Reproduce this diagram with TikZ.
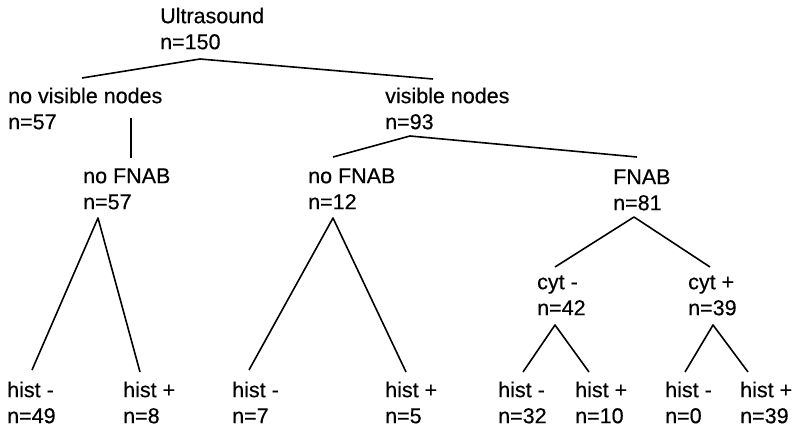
\documentclass[tikz,border=0pt]{standalone}
\usepackage{fontspec}
\setmainfont{Liberation Sans}[FakeBold=0.4]
\newcommand{\lab}[2]{\strut #1\\#2\strut}
\begin{document}
\begin{tikzpicture}[x=1pt,y=1pt,
  lbl/.style={anchor=north west, inner sep=0pt, align=left,
    font=\fontsize{21.5}{26}\selectfont},
  branch/.style={draw=black, line width=1.6pt, line join=round}]
\useasboundingbox[fill=white] (0,0) rectangle (792,429);
% labels
\node[lbl] (root) at (160,424.2) {\lab{Ultrasound}{n=150}};
\node[lbl] (nvn)  at (8,344.2)   {\lab{no visible nodes}{n=57}};
\node[lbl] (vn)   at (385,344.2) {\lab{visible nodes}{n=93}};
\node[lbl] (nf1)  at (83,264.2)  {\lab{no FNAB}{n=57}};
\node[lbl] (nf2)  at (308,264.2) {\lab{no FNAB}{n=12}};
\node[lbl] (fnab) at (613,263.2) {\lab{FNAB}{n=81}};
\node[lbl] (cytm) at (537,158.2) {\lab{cyt -}{n=42}};
\node[lbl] (cytp) at (688,158.2) {\lab{cyt +}{n=39}};
\node[lbl] (h1) at (7,50.2)   {\lab{hist -}{n=49}};
\node[lbl] (h2) at (123,50.2) {\lab{hist +}{n=8}};
\node[lbl] (h3) at (232,50.2) {\lab{hist -}{n=7}};
\node[lbl] (h4) at (385,50.2) {\lab{hist +}{n=5}};
\node[lbl] (h5) at (498,50.2) {\lab{hist -}{n=32}};
\node[lbl] (h6) at (575,50.2) {\lab{hist +}{n=10}};
\node[lbl] (h7) at (665,50.2) {\lab{hist -}{n=0}};
\node[lbl] (h8) at (740,50.2) {\lab{hist +}{n=39}};
% branches
\draw[branch] ([shift={(74,6.8)}]nvn.north west) -- ([shift={(40,-54.2)}]root.north west) -- ([shift={(48,5.8)}]vn.north west);
\draw[branch] ([shift={(123,-33.2)}]nvn.north west) -- ([shift={(48,6.8)}]nf1.north west);
\draw[branch] ([shift={(25,7.8)}]nf2.north west) -- ([shift={(25,-51.2)}]vn.north west) -- ([shift={(24,8.8)}]fnab.north west);
\draw[branch] ([shift={(25,8.8)}]h1.north west) -- ([shift={(15,-53.2)}]nf1.north west) -- ([shift={(17,6.8)}]h2.north west);
\draw[branch] ([shift={(17,8.8)}]h3.north west) -- ([shift={(25,-53.2)}]nf2.north west) -- ([shift={(21,6.8)}]h4.north west);
\draw[branch] ([shift={(18,3.8)}]cytm.north west) -- ([shift={(21,-51.2)}]fnab.north west) -- ([shift={(22,3.8)}]cytp.north west);
\draw[branch] ([shift={(25,6.8)}]h5.north west) -- ([shift={(18,-54.2)}]cytm.north west) -- ([shift={(14,6.8)}]h6.north west);
\draw[branch] ([shift={(20,6.8)}]h7.north west) -- ([shift={(25,-54.2)}]cytp.north west) -- ([shift={(8,6.8)}]h8.north west);
\end{tikzpicture}
\end{document}
